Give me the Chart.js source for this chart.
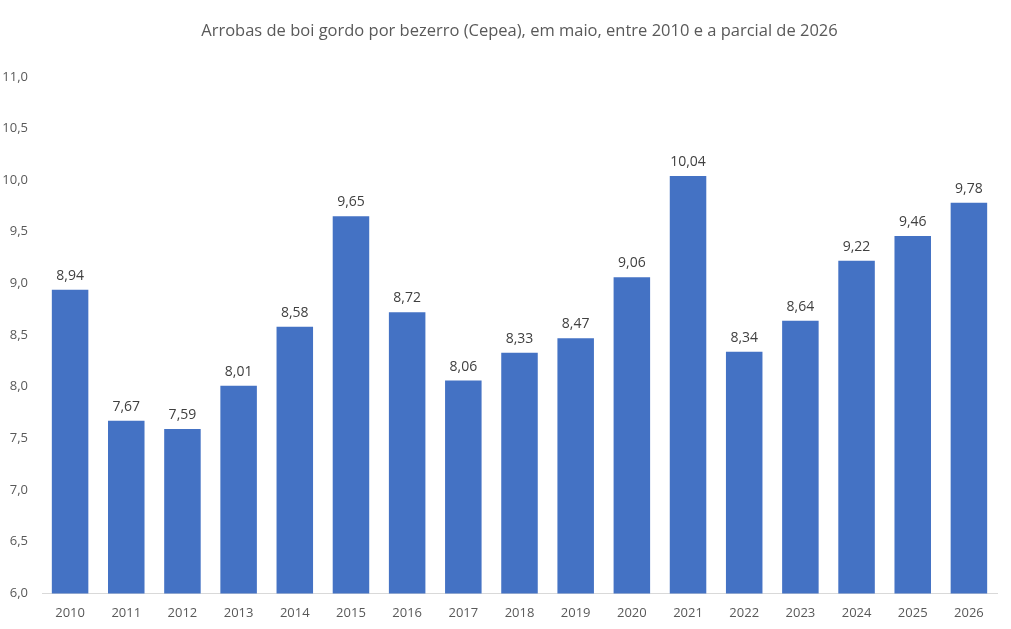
<!DOCTYPE html>
<html>
<head>
<meta charset="utf-8">
<script src="https://cdn.jsdelivr.net/npm/chart.js@4"></script>
<style>
  html, body { margin: 0; padding: 0; background: #fff; }
  #box { width: 1011px; height: 629px; }
</style>
</head>
<body>
<div id="box"><canvas id="grafico"></canvas></div>
<script>
const anos = ['2010','2011','2012','2013','2014','2015','2016','2017','2018','2019','2020','2021','2022','2023','2024','2025','2026'];
const arrobas = [8.94, 7.67, 7.59, 8.01, 8.58, 9.65, 8.72, 8.06, 8.33, 8.47, 9.06, 10.04, 8.34, 8.64, 9.22, 9.46, 9.78];
const titulo = 'Arrobas de boi gordo por bezerro (Cepea), em maio, entre 2010 e a parcial de 2026';

const fmt = v => v.toFixed(2).replace('.', ',');

// rotulos em cima das barras
const rotulos = {
    id: 'rotulos',
    afterDatasetsDraw(chart){
        const c = chart.ctx;
        const meta = chart.getDatasetMeta(0);
        c.save();
        c.font = '14px "Open Sans", sans-serif';
        c.fillStyle = '#404040';
        c.textAlign = 'center';
        c.textBaseline = 'bottom';
        meta.data.forEach((bar, i) => {
            c.fillText(fmt(arrobas[i]), bar.x, bar.y - 7);
        });
        c.restore();
    }
};

new Chart(document.getElementById('grafico'), {
    type: 'bar',
    data: {
        labels: anos,
        datasets: [{
            data: arrobas,
            backgroundColor: '#4472c4',
            barPercentage: 0.65,
            categoryPercentage: 1
        }]
    },
    options: {
        responsive: true,
        maintainAspectRatio: false,
        animation: false,
        layout: { padding: { left: 0, right: 14, top: 14, bottom: 4 } },
        plugins: {
            legend: { display: false },
            tooltip: { enabled: false },
            title: {
                display: true,
                fullSize: false,
                text: titulo,
                color: '#595959',
                font: { family: '"Open Sans", sans-serif', size: 16.5, weight: 'normal' },
                padding: { top: 7, bottom: 36 }
            }
        },
        scales: {
            x: {
                grid: { display: false },
                border: { display: true, color: '#d9d9d9' },
                ticks: { color: '#595959', font: { family: '"Open Sans", sans-serif', size: 13 }, padding: 4 }
            },
            y: {
                min: 6,
                max: 11,
                grid: { display: false },
                border: { display: false },
                afterFit: ax => { ax.width = 42; },
                ticks: {
                    stepSize: 0.5,
                    color: '#595959',
                    padding: 6,
                    font: { family: '"Open Sans", sans-serif', size: 13 },
                    callback: v => v.toFixed(1).replace('.', ',')
                }
            }
        }
    },
    plugins: [rotulos]
});
</script>
</body>
</html>
